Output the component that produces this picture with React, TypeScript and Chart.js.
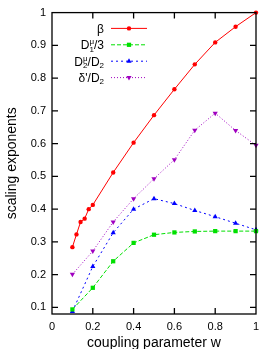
import React, { useEffect, useRef } from "react";
import { Chart, registerables } from "chart.js";

Chart.register(...registerables);

// ---- data ----
const wBeta = [0.1, 0.12, 0.14, 0.16, 0.18, 0.2, 0.3, 0.4, 0.5, 0.6, 0.7, 0.8, 0.9, 1.0];
const beta = [0.284, 0.323, 0.361, 0.371, 0.4, 0.413, 0.512, 0.603, 0.687, 0.766, 0.842, 0.909, 0.957, 1.0];
const wOther = [0.1, 0.2, 0.3, 0.4, 0.5, 0.6, 0.7, 0.8, 0.9, 1.0];
const d1Over3 = [0.094, 0.16, 0.241, 0.297, 0.322, 0.329, 0.332, 0.333, 0.333, 0.333];
const d2OverD2 = [0.088, 0.225, 0.328, 0.4, 0.432, 0.417, 0.396, 0.377, 0.357, 0.337];
const deltaOverD2 = [0.201, 0.272, 0.361, 0.432, 0.493, 0.551, 0.641, 0.693, 0.64, 0.595];
const xTicks = [0, 0.2, 0.4, 0.6, 0.8, 1];
const yTicks = [0.1, 0.2, 0.3, 0.4, 0.5, 0.6, 0.7, 0.8, 0.9, 1];
const xRange = [0, 1];
const yRange = [0.08, 1];
const xTitle = "coupling parameter w";
const yTitle = "scaling exponents";

type Seg = { t: string; sup?: string; sub?: string };
const legendLabels: Seg[][] = [
  [{ t: "β" }],
  [{ t: "D", sup: "μ", sub: "1" }, { t: "/3" }],
  [{ t: "D", sup: "μ", sub: "2" }, { t: "/D", sub: "2" }],
  [{ t: "δ'" }, { t: "/D", sub: "2" }],
];

const FONT = "'Liberation Sans', Arial, Helvetica, sans-serif";
const RED = "#ff0000";
const GREEN = "#00e000";
const BLUE = "#0000ff";
const PURPLE = "#a000c0";

function drawMarker(ctx: CanvasRenderingContext2D, style: string, r: number, rot: number, x: number, y: number) {
  ctx.beginPath();
  if (style === "circle") {
    ctx.arc(x, y, r, 0, Math.PI * 2);
  } else if (style === "rect") {
    const s = r * Math.SQRT1_2;
    ctx.rect(x - s, y - s, 2 * s, 2 * s);
  } else if (style === "triangle") {
    const a = (rot * Math.PI) / 180;
    for (let k = 0; k < 3; k++) {
      const ang = a - Math.PI / 2 + (k * 2 * Math.PI) / 3;
      const px = x + Math.cos(ang) * r;
      const py = y + Math.sin(ang) * r;
      if (k === 0) ctx.moveTo(px, py);
      else ctx.lineTo(px, py);
    }
    ctx.closePath();
  }
  ctx.fill();
}

const frameAndLegend = {
  id: "frameAndLegend",
  afterDraw(chart: any) {
    const ctx = chart.ctx as CanvasRenderingContext2D;
    const { left, right, top, bottom } = chart.chartArea;
    const xs = chart.scales.x;
    const ys = chart.scales.y;
    ctx.save();
    // frame
    ctx.strokeStyle = "#000";
    ctx.lineWidth = 1.3;
    ctx.setLineDash([]);
    ctx.strokeRect(left, top, right - left, bottom - top);
    const tl = 6;
    ctx.beginPath();
    for (const v of yTicks) {
      const y = ys.getPixelForValue(v);
      if (v < yRange[1]) {
        ctx.moveTo(left, y);
        ctx.lineTo(left + tl, y);
        ctx.moveTo(right, y);
        ctx.lineTo(right - tl, y);
      }
    }
    for (const v of xTicks) {
      const x = xs.getPixelForValue(v);
      if (v > xRange[0] && v < xRange[1]) {
        ctx.moveTo(x, bottom);
        ctx.lineTo(x, bottom - tl);
        ctx.moveTo(x, top);
        ctx.lineTo(x, top + tl);
      }
    }
    ctx.stroke();

    // legend
    const mainFont = `12px ${FONT}`;
    const smallFont = `8px ${FONT}`;
    const textRight = left + 52;
    const lineL = left + 59;
    const lineR = left + 95;
    chart.data.datasets.forEach((ds: any, i: number) => {
      const yc = top + 15.8 + i * 16.4;
      const segs = legendLabels[i];
      let total = 0;
      const widths: number[] = [];
      for (const s of segs) {
        ctx.font = mainFont;
        let w = ctx.measureText(s.t).width;
        ctx.font = smallFont;
        const ws = Math.max(s.sup ? ctx.measureText(s.sup).width : 0, s.sub ? ctx.measureText(s.sub).width : 0);
        w += ws;
        widths.push(w);
        total += w;
      }
      let x = textRight - total;
      const base = yc + 4.3;
      ctx.fillStyle = "#000";
      ctx.textBaseline = "alphabetic";
      ctx.textAlign = "left";
      segs.forEach((s, k) => {
        ctx.font = mainFont;
        ctx.fillText(s.t, x, base);
        const xx = x + ctx.measureText(s.t).width;
        ctx.font = smallFont;
        if (s.sup) ctx.fillText(s.sup, xx, base - 5);
        if (s.sub) ctx.fillText(s.sub, xx, base + 2.5);
        x += widths[k];
      });
      // line sample
      ctx.strokeStyle = ds.borderColor;
      ctx.lineWidth = ds.borderWidth;
      ctx.setLineDash(ds.borderDash || []);
      ctx.beginPath();
      ctx.moveTo(lineL, yc);
      ctx.lineTo(lineR, yc);
      ctx.stroke();
      ctx.setLineDash([]);
      ctx.fillStyle = ds.pointBackgroundColor;
      drawMarker(ctx, ds.pointStyle, ds.pointRadius, ds.pointRotation || 0, (lineL + lineR) / 2, yc);
    });
    ctx.restore();
  },
};

function series(xv: number[], yv: number[]) {
  return xv.map((x, i) => ({ x, y: yv[i] }));
}

export default function App() {
  const ref = useRef<HTMLCanvasElement | null>(null);
  useEffect(() => {
    document.body.style.margin = "0";
    document.body.style.overflow = "hidden";
    const canvas = ref.current!;
    const common = { borderWidth: 1, pointBorderWidth: 0, clip: false };
    const chart = new Chart(canvas, {
      type: "line",
      data: {
        datasets: [
          {
            ...common,
            label: "β",
            data: series(wBeta, beta),
            borderColor: RED,
            backgroundColor: RED,
            pointBackgroundColor: RED,
            pointBorderColor: RED,
            pointStyle: "circle",
            pointRadius: 2.2,
          },
          {
            ...common,
            label: "D1/3",
            data: series(wOther, d1Over3),
            borderColor: GREEN,
            backgroundColor: GREEN,
            pointBackgroundColor: GREEN,
            pointBorderColor: GREEN,
            borderDash: [4, 2],
            pointStyle: "rect",
            pointRadius: 3,
          },
          {
            ...common,
            label: "D2/D2",
            data: series(wOther, d2OverD2),
            borderColor: BLUE,
            backgroundColor: BLUE,
            pointBackgroundColor: BLUE,
            pointBorderColor: BLUE,
            borderDash: [2, 3],
            pointStyle: "triangle",
            pointRadius: 3,
          },
          {
            ...common,
            label: "δ'/D2",
            data: series(wOther, deltaOverD2),
            borderColor: PURPLE,
            backgroundColor: PURPLE,
            pointBackgroundColor: PURPLE,
            pointBorderColor: PURPLE,
            borderDash: [1, 2],
            pointStyle: "triangle",
            pointRotation: 180,
            pointRadius: 3,
          },
        ],
      },
      options: {
        animation: false,
        responsive: false,
        devicePixelRatio: 1,
        layout: { padding: { left: 0, right: 17, top: 12.5, bottom: 0 } },
        plugins: { legend: { display: false }, tooltip: { enabled: false } },
        elements: { line: { tension: 0 } },
        scales: {
          x: {
            type: "linear",
            min: xRange[0],
            max: xRange[1],
            grid: { display: false, drawTicks: false },
            border: { display: false },
            afterBuildTicks: (s: any) => {
              s.ticks = xTicks.map((v) => ({ value: v }));
            },
            afterFit: (s: any) => {
              s.height = 35;
            },
            ticks: {
              color: "#000",
              font: { family: FONT, size: 11 },
              padding: 6,
              maxRotation: 0,
              callback: (v: any) => String(Math.round(Number(v) * 10) / 10),
            },
            title: {
              display: true,
              text: xTitle,
              color: "#000",
              font: { family: FONT, size: 14 },
              padding: { top: 0, bottom: -2.4 },
            },
          },
          y: {
            type: "linear",
            min: yRange[0],
            max: yRange[1],
            grid: { display: false, drawTicks: false },
            border: { display: false },
            afterBuildTicks: (s: any) => {
              s.ticks = yTicks.map((v) => ({ value: v }));
            },
            afterFit: (s: any) => {
              s.width = 52;
            },
            ticks: {
              color: "#000",
              font: { family: FONT, size: 11 },
              padding: 6,
              callback: (v: any) => String(Math.round(Number(v) * 10) / 10),
            },
            title: {
              display: true,
              text: yTitle,
              color: "#000",
              font: { family: FONT, size: 14 },
              padding: { top: 4, bottom: 0 },
            },
          },
        },
      },
      plugins: [frameAndLegend],
    } as any);
    return () => chart.destroy();
  }, []);
  return (
    <div style={{ position: "fixed", left: 0, top: 0, width: 273, height: 349, overflow: "hidden", background: "#fff" }}>
      <canvas ref={ref} width={273} height={349} style={{ display: "block", width: 273, height: 349 }} />
    </div>
  );
}
